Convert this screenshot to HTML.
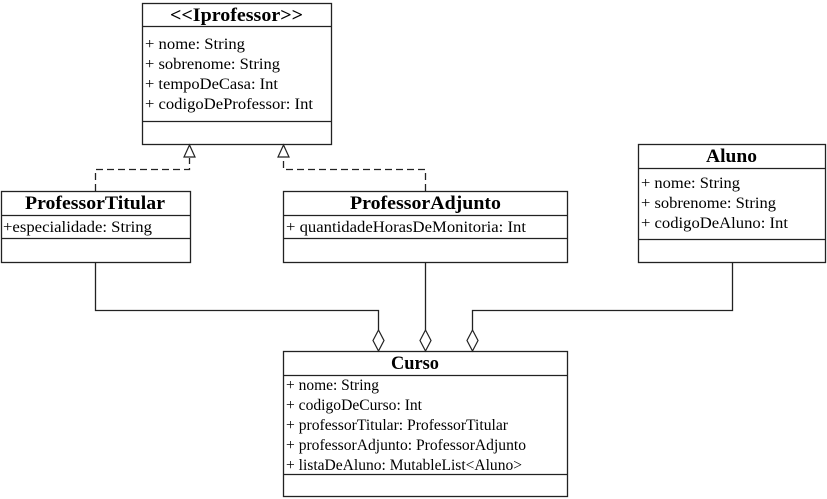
<!DOCTYPE html>
<html><head><meta charset="utf-8"><style>
html,body{margin:0;padding:0;background:#fff;}
svg{display:block;}
</style></head><body>
<svg width="827" height="499" viewBox="0 0 827 499" xmlns="http://www.w3.org/2000/svg">
<g fill="#fff" stroke="#222" stroke-width="1.3">
<rect x="142.5" y="3.5" width="189" height="141"/>
<line x1="142.5" y1="26.5" x2="331.5" y2="26.5"/>
<line x1="142.5" y1="121.5" x2="331.5" y2="121.5"/>
<rect x="1.5" y="191.5" width="189" height="71"/>
<line x1="1.5" y1="215.5" x2="190.5" y2="215.5"/>
<line x1="1.5" y1="238.5" x2="190.5" y2="238.5"/>
<rect x="283.5" y="191.5" width="284" height="71"/>
<line x1="283.5" y1="215.5" x2="567.5" y2="215.5"/>
<line x1="283.5" y1="238.5" x2="567.5" y2="238.5"/>
<rect x="638.5" y="144.5" width="187" height="118"/>
<line x1="638.5" y1="168.5" x2="825.5" y2="168.5"/>
<line x1="638.5" y1="239.5" x2="825.5" y2="239.5"/>
<rect x="283.5" y="351.5" width="284" height="145"/>
<line x1="283.5" y1="375.5" x2="567.5" y2="375.5"/>
<line x1="283.5" y1="474.5" x2="567.5" y2="474.5"/>
</g>
<g fill="none" stroke="#222" stroke-width="1.3">
<path d="M95.5 191 V169.5 H189.5 V158" stroke-dasharray="7,4"/>
<path d="M425.5 191 V169.5 H283.5 V158" stroke-dasharray="7,4"/>
<path d="M95.5 263 V310.5 H378.5 V330"/>
<path d="M425.5 263 V330"/>
<path d="M732.5 263 V310.5 H472.5 V330"/>
</g>
<g fill="#fff" stroke="#222" stroke-width="1.2">
<polygon points="189.5,145 184,157 195,157"/>
<polygon points="283.5,145 278,157 289,157"/>
<polygon points="378.5,330 384,340.5 378.5,351 373,340.5"/>
<polygon points="425.5,330 431,340.5 425.5,351 420,340.5"/>
<polygon points="472.5,330 478,340.5 472.5,351 467,340.5"/>
</g>
<g font-family="Liberation Serif, serif" font-weight="bold" font-size="19" fill="#000">
<text x="170" y="21" textLength="133" lengthAdjust="spacingAndGlyphs">&lt;&lt;Iprofessor&gt;&gt;</text>
<text x="25" y="209" textLength="140" lengthAdjust="spacingAndGlyphs">ProfessorTitular</text>
<text x="350" y="209" textLength="151" lengthAdjust="spacingAndGlyphs">ProfessorAdjunto</text>
<text x="706" y="162" textLength="51" lengthAdjust="spacingAndGlyphs">Aluno</text>
<text x="391" y="369" textLength="48" lengthAdjust="spacingAndGlyphs">Curso</text>
</g>
<g font-family="Liberation Serif, serif" font-size="16" fill="#000">
<text x="145" y="49" textLength="100" lengthAdjust="spacingAndGlyphs">+ nome: String</text>
<text x="145" y="69" textLength="135" lengthAdjust="spacingAndGlyphs">+ sobrenome: String</text>
<text x="145" y="89" textLength="133" lengthAdjust="spacingAndGlyphs">+ tempoDeCasa: Int</text>
<text x="145" y="109" textLength="168" lengthAdjust="spacingAndGlyphs">+ codigoDeProfessor: Int</text>
<text x="3" y="232" textLength="149" lengthAdjust="spacingAndGlyphs">+especialidade: String</text>
<text x="286" y="232" textLength="240" lengthAdjust="spacingAndGlyphs">+ quantidadeHorasDeMonitoria: Int</text>
<text x="641" y="188" textLength="99" lengthAdjust="spacingAndGlyphs">+ nome: String</text>
<text x="641" y="208" textLength="135" lengthAdjust="spacingAndGlyphs">+ sobrenome: String</text>
<text x="641" y="228" textLength="147" lengthAdjust="spacingAndGlyphs">+ codigoDeAluno: Int</text>
<text x="286" y="390" textLength="93" lengthAdjust="spacingAndGlyphs">+ nome: String</text>
<text x="286" y="410" textLength="136" lengthAdjust="spacingAndGlyphs">+ codigoDeCurso: Int</text>
<text x="286" y="430" textLength="222" lengthAdjust="spacingAndGlyphs">+ professorTitular: ProfessorTitular</text>
<text x="286" y="450" textLength="240" lengthAdjust="spacingAndGlyphs">+ professorAdjunto: ProfessorAdjunto</text>
<text x="286" y="470" textLength="236" lengthAdjust="spacingAndGlyphs">+ listaDeAluno: MutableList&lt;Aluno&gt;</text>
</g>
</svg>
</body></html>
